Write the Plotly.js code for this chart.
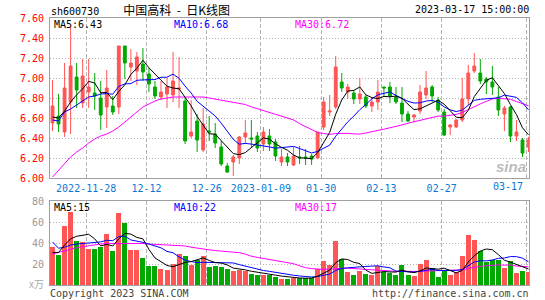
<!DOCTYPE html>
<html><head><meta charset="utf-8">
<script src="https://cdn.plot.ly/plotly-3.0.1.min.js"></script>
<style>html,body{margin:0;padding:0;background:#fff}#c{width:545px;height:300px}</style>
</head><body><div id="c"></div>
<script>
const dates = [
'2022-11-18','2022-11-21','2022-11-22','2022-11-23','2022-11-24','2022-11-25','2022-11-28','2022-11-29','2022-11-30','2022-12-01',
'2022-12-02','2022-12-05','2022-12-06','2022-12-07','2022-12-08','2022-12-09','2022-12-12','2022-12-13','2022-12-14','2022-12-15',
'2022-12-16','2022-12-19','2022-12-20','2022-12-21','2022-12-22','2022-12-23','2022-12-26','2022-12-27','2022-12-28','2022-12-29',
'2022-12-30','2023-01-03','2023-01-04','2023-01-05','2023-01-06','2023-01-09','2023-01-10','2023-01-11','2023-01-12','2023-01-13',
'2023-01-16','2023-01-17','2023-01-18','2023-01-19','2023-01-20','2023-01-30','2023-01-31','2023-02-01','2023-02-02','2023-02-03',
'2023-02-06','2023-02-07','2023-02-08','2023-02-09','2023-02-10','2023-02-13','2023-02-14','2023-02-15','2023-02-16','2023-02-17',
'2023-02-20','2023-02-21','2023-02-22','2023-02-23','2023-02-24','2023-02-27','2023-02-28','2023-03-01','2023-03-02','2023-03-03',
'2023-03-06','2023-03-07','2023-03-08','2023-03-09','2023-03-10','2023-03-13','2023-03-14','2023-03-15','2023-03-16','2023-03-17'];

const open = [
6.55,6.62,6.46,6.76,7.01,6.75,6.86,6.85,6.80,6.71,
6.72,6.71,7.32,7.11,7.07,7.14,7.04,6.91,6.81,6.84,
6.83,6.89,6.77,6.42,6.57,6.28,6.47,6.44,6.31,6.12,
6.16,6.20,6.41,6.40,6.42,6.34,6.42,6.36,6.16,6.21,
6.13,6.21,6.21,6.22,6.20,6.51,6.66,6.71,6.96,6.86,
6.85,6.79,6.81,6.72,6.76,6.91,6.91,6.81,6.75,6.64,
6.61,6.67,6.83,6.91,6.78,6.66,6.51,6.51,6.58,6.79,
7.07,7.05,6.99,6.96,6.81,6.64,6.71,6.42,6.38,6.31];
const high = [
6.98,6.84,7.15,7.53,7.15,7.19,7.19,7.05,6.97,7.08,
6.82,7.32,7.32,7.29,7.26,7.30,7.10,6.97,6.97,7.00,
7.26,7.21,6.80,6.78,6.64,6.70,6.62,6.55,6.37,6.15,
6.23,6.42,6.58,6.58,6.46,6.51,6.49,6.39,6.29,6.25,
6.31,6.32,6.29,6.24,6.46,6.81,6.83,7.22,7.05,6.94,
6.88,7.00,6.83,6.81,6.98,6.91,6.96,6.91,6.91,6.67,
6.64,6.93,7.07,6.93,6.81,6.69,6.54,6.59,7.00,7.13,
7.25,7.19,7.01,7.12,6.91,6.72,6.72,6.58,6.40,6.41];
const low = [
6.47,6.46,6.41,6.44,6.70,6.70,6.70,6.68,6.48,6.50,
6.63,6.64,6.99,6.97,6.93,6.97,6.86,6.79,6.78,6.70,
6.76,6.70,6.34,6.40,6.26,6.26,6.37,6.30,6.12,6.05,
6.02,6.14,6.34,6.30,6.26,6.27,6.27,6.17,6.12,6.12,
6.12,6.14,6.13,6.13,6.19,6.48,6.62,6.69,6.86,6.79,
6.74,6.74,6.70,6.66,6.68,6.81,6.75,6.74,6.56,6.56,
6.56,6.64,6.79,6.76,6.66,6.42,6.43,6.50,6.56,6.73,
7.05,6.94,6.84,6.83,6.62,6.47,6.36,6.37,6.21,6.26];
const close = [
6.72,6.54,6.90,7.12,6.88,7.02,6.91,6.82,6.63,6.90,
6.66,7.32,7.15,7.15,7.21,7.06,6.94,6.82,6.86,6.91,
6.97,6.90,6.37,6.46,6.38,6.54,6.46,6.35,6.14,6.06,
6.21,6.41,6.45,6.39,6.30,6.46,6.34,6.22,6.21,6.16,
6.22,6.20,6.20,6.19,6.46,6.76,6.67,7.11,6.90,6.91,
6.79,6.84,6.72,6.76,6.86,6.90,6.82,6.76,6.64,6.57,
6.63,6.86,6.90,6.82,6.68,6.43,6.53,6.58,6.79,7.05,
7.12,6.97,6.96,6.91,6.68,6.70,6.42,6.46,6.25,6.38];

const ma5 = [
6.61,6.60,6.67,6.76,6.832,6.892,6.966,6.95,6.852,6.856,
6.784,6.866,6.932,7.036,7.098,7.178,7.102,7.036,6.978,6.918,
6.90,6.892,6.802,6.722,6.616,6.53,6.442,6.438,6.374,6.31,
6.244,6.234,6.254,6.304,6.352,6.402,6.388,6.342,6.306,6.278,
6.23,6.202,6.198,6.194,6.254,6.362,6.456,6.638,6.78,6.87,
6.876,6.91,6.832,6.804,6.794,6.816,6.812,6.82,6.796,6.738,
6.684,6.692,6.72,6.756,6.778,6.738,6.672,6.608,6.602,6.676,
6.814,6.902,6.978,7.002,6.928,6.844,6.734,6.634,6.502,6.432];
const ma10 = [
6.58,6.57,6.66,6.69,6.73,6.77,6.81,6.82,6.84,6.844,
6.838,6.916,6.941,6.944,6.977,6.981,6.984,6.984,7.007,7.008,
7.039,6.997,6.919,6.85,6.767,6.715,6.667,6.62,6.548,6.463,
6.387,6.338,6.346,6.339,6.331,6.323,6.311,6.298,6.305,6.315,
6.316,6.295,6.27,6.25,6.266,6.296,6.329,6.418,6.487,6.562,
6.619,6.683,6.735,6.792,6.832,6.846,6.861,6.826,6.80,6.766,
6.75,6.752,6.77,6.776,6.758,6.711,6.682,6.664,6.679,6.727,
6.776,6.787,6.793,6.802,6.802,6.829,6.818,6.806,6.752,6.682];
const ma30 = [
6.01,6.08,6.15,6.21,6.26,6.30,6.35,6.39,6.42,6.44,
6.47,6.51,6.56,6.61,6.66,6.71,6.74,6.77,6.79,6.80,
6.81,6.81,6.81,6.81,6.81,6.81,6.80,6.79,6.78,6.772,
6.755,6.750,6.735,6.711,6.692,6.673,6.654,6.634,6.62,6.595,
6.581,6.543,6.512,6.48,6.455,6.445,6.436,6.445,6.447,6.447,
6.441,6.439,6.45,6.46,6.476,6.488,6.50,6.514,6.531,6.548,
6.562,6.577,6.592,6.606,6.619,6.618,6.624,6.636,6.655,6.685,
6.715,6.741,6.766,6.79,6.797,6.795,6.787,6.765,6.744,6.722];

const volume = [
36,29,56,69.5,41.5,40.5,34,34,36,49,
32.5,69,59,33,33,26,18.5,18.5,15.5,14.5,
20,29.5,28,19.5,24,28,17.5,18,17,15,
13,14,13,10.5,9.5,10,9.5,7.5,6,6,
7,7,6.5,6.5,15,23,19.5,42,24.5,12.5,
9.5,13.5,10.5,9.5,18,12.5,11.5,10,19,10,
8.5,20,23.5,16,7.5,13,9.5,12,27.5,47.5,
42.5,32,22,24,24,16,23,11.5,13.5,12];
const vma5 = [
31,31,38,44,46.4,47.3,48.3,43.9,37.2,38.7,
37.1,44.1,49.1,48.5,45.3,44,33.9,25.8,22.3,18.6,
17.4,19.6,21.5,22.3,24.2,25.8,23.4,21.4,20.9,19.1,
16.1,15.4,14.4,13.1,12,11.4,10.5,9.4,8.5,7.8,
7.2,6.7,6.5,6.6,8.4,11.6,14.1,21.2,24.8,24.3,
21.6,20.4,14.1,11.1,12.2,12.8,12.4,12.3,14.2,12.6,
11.8,13.5,16.2,15.6,15.1,16,13.9,11.6,13.9,21.9,
27.8,32.3,34.3,33.6,28.9,23.6,21.8,19.7,17.6,15.2];
const vma10 = [
41,35,36,38,39,39.5,40,40.5,41,42.6,
42.2,46.2,46.5,42.9,42,40.6,39,37.5,35.4,32,
30.7,26.8,23.7,22.3,21.4,21.6,21.5,21.5,21.6,21.7,
21,19.4,17.9,17,15.6,13.8,13,11.9,10.8,9.9,
9.3,8.6,8,7.6,8.1,9.4,10.4,13.9,15.7,16.4,
16.6,17.3,17.7,18,18.3,17.2,16.4,13.2,12.7,12.4,
12.3,13,14.3,14.9,13.9,13.9,13.7,13.9,14.8,18.5,
21.9,23.1,23,23.8,25.4,25.7,27.1,27,25.6,22.1];
const vma30 = [
29.5,31,33,34.5,35.5,36.5,37.5,38.5,39,39.5,
39.5,40,40,40,40,39.5,39,38.8,38.5,38.2,
38,37.6,37.2,36,35,34.2,33.5,32.8,32.4,32.1,
31.3,30.8,29.4,27.4,26.3,25.3,24.5,23.6,22.6,21.2,
20.3,18.3,16.5,15.6,15,14.9,15,15.7,16,16,
15.6,15.1,14.5,14.2,14,13.5,13.3,13,13.1,12.9,
12.7,12.9,13.3,13.5,13.4,13.5,13.5,13.7,14.4,15.8,
16.9,17.8,18.3,18.9,19.2,18.9,19.1,18,17.7,17.4];

const tickDates = ['2022-11-28','2022-12-12','2022-12-26','2023-01-09','2023-01-30','2023-02-13','2023-02-27','2023-03-17'];
const tickLabels = ['2022-11-28','12-12','12-26','2023-01-09','01-30','02-13','02-27','03-17'];
const priceTicks = [6.00,6.20,6.40,6.60,6.80,7.00,7.20,7.40,7.60];
const volTicks = [20,40,60,80];

const RED='#ff5555', GREEN='#00a800', MONO='DejaVu Sans Mono, monospace', DATEC='#0a78d2';
const idx = dates.map((d,i)=>i);
const tickPos = tickDates.map(d=>dates.indexOf(d)-0.415);
const volColors = idx.map(i=> close[i]>=open[i]?RED:GREEN);
const lastTick = tickLabels.length-1;

const traces = [
 {type:'candlestick', x:idx, open:open, high:high, low:low, close:close, xaxis:'x', yaxis:'y',
  increasing:{line:{color:RED,width:1}, fillcolor:RED},
  decreasing:{line:{color:GREEN,width:1}, fillcolor:GREEN},
  whiskerwidth:0, hoverinfo:'skip'},
 {type:'scatter', mode:'lines', x:idx, y:ma30, line:{color:'#ff00ff',width:1}, xaxis:'x', yaxis:'y', hoverinfo:'skip'},
 {type:'scatter', mode:'lines', x:idx, y:ma10, line:{color:'#0000ff',width:1}, xaxis:'x', yaxis:'y', hoverinfo:'skip'},
 {type:'scatter', mode:'lines', x:idx, y:ma5, line:{color:'#000000',width:1}, xaxis:'x', yaxis:'y', hoverinfo:'skip'},
 {type:'bar', x:idx, y:volume, marker:{color:volColors, line:{width:0}}, width:0.83, xaxis:'x2', yaxis:'y2', hoverinfo:'skip'},
 {type:'scatter', mode:'lines', x:idx, y:vma30, line:{color:'#ff00ff',width:1}, xaxis:'x2', yaxis:'y2', hoverinfo:'skip'},
 {type:'scatter', mode:'lines', x:idx, y:vma10, line:{color:'#0000ff',width:1}, xaxis:'x2', yaxis:'y2', hoverinfo:'skip'},
 {type:'scatter', mode:'lines', x:idx, y:vma5, line:{color:'#000000',width:1}, xaxis:'x2', yaxis:'y2', hoverinfo:'skip'}
];

const Lp=50, Rp=529, Tp=18, Bp=285;
const px = x => (x-Lp)/(Rp-Lp);
const py = y => (Bp-y)/(Bp-Tp);
function ann(text, x, y, color, xanchor, size, family){
  return {text:text, xref:'paper', yref:'paper', x:px(x), y:py(y), xanchor:xanchor, yanchor:'middle',
    showarrow:false, font:{family:family||MONO, size:size||10, color:color}, borderpad:0};
}
const n = close.length-1;
const CJK = 'Noto Sans CJK SC';
const header = 'sh600730\u00a0\u00a0\u00a0\u00a0<span style="font-family:\'' + CJK + '\';font-size:12px">中国高科\u00a0\u00a0-\u00a0\u00a0日K线图</span>';
const annotations = [
  ann(header, 50, 10, '#000', 'left'),
  ann('2023-03-17 15:00:00', 530, 10, '#000', 'right'),
  ann('MA5:'+ma5[n].toFixed(2), 53, 24, '#000', 'left'),
  ann('MA10:'+ma10[n].toFixed(2), 173, 24, '#0000ff', 'left'),
  ann('MA30:'+ma30[n].toFixed(2), 294, 24, '#ff00ff', 'left'),
  ann('MA5:'+Math.round(vma5[n]), 53, 207, '#000', 'left'),
  ann('MA10:'+Math.round(vma10[n]), 173, 207, '#0000ff', 'left'),
  ann('MA30:'+Math.round(vma30[n]), 294, 207, '#ff00ff', 'left'),
  ann(tickLabels[lastTick], 524, 186, DATEC, 'right'),
  ann('x万', 45, 283, '#aaaaaa', 'right', 10, CJK),
  ann('Copyright 2023 SINA.COM', 49, 293, '#444', 'left'),
  ann('http://finance.sina.com.cn', 530, 293, '#444', 'right'),
  ann('<b><i>sina</i></b>', 511, 166, 'rgba(170,170,170,0.8)', 'center', 15, 'Liberation Sans')
];

const gridC='#b4b4b4', lineC='#a0a0a0';
const layout = {
  width:545, height:300, margin:{l:50,r:16,t:18,b:15,pad:0},
  paper_bgcolor:'#fff', plot_bgcolor:'#fff', showlegend:false, boxgap:0.33, bargap:0,
  xaxis:{domain:[0,1], anchor:'y', range:[-0.42,79.08], tickvals:tickPos, ticktext:tickLabels.map((t,i)=>i===lastTick?'':t),
    tickfont:{family:MONO,size:10,color:DATEC}, ticks:'', showgrid:true, gridcolor:gridC, griddash:'4px,2px', gridwidth:1,
    showline:true, mirror:true, linecolor:lineC, linewidth:1, zeroline:false, rangeslider:{visible:false}, fixedrange:true, ticklabelstandoff:1},
  xaxis2:{domain:[0,1], anchor:'y2', matches:'x', range:[-0.42,79.08], tickvals:tickPos, showticklabels:false, ticks:'',
    showgrid:true, gridcolor:gridC, griddash:'4px,2px', gridwidth:1, showline:true, mirror:true, linecolor:lineC, zeroline:false},
  yaxis:{domain:[(Bp-178)/(Bp-Tp),1], anchor:'x', range:[6.0,7.6], tickvals:priceTicks, ticktext:priceTicks.map(v=>v.toFixed(2)),
    tickfont:{family:MONO,size:10,color:'#ff0000'}, ticks:'', showgrid:true, gridcolor:gridC, griddash:'1px,2px', gridwidth:1,
    showline:true, mirror:true, linecolor:lineC, zeroline:false, ticklabelstandoff:3},
  yaxis2:{domain:[0,(Bp-201)/(Bp-Tp)], anchor:'x2', range:[0,80], tickvals:volTicks, ticktext:volTicks.map(String),
    tickfont:{family:MONO,size:10,color:'#999999'}, ticks:'', showgrid:true, gridcolor:gridC, griddash:'1px,2px', gridwidth:1,
    showline:true, mirror:true, linecolor:lineC, zeroline:false, ticklabelstandoff:3},
  annotations:annotations
};
Plotly.newPlot('c', traces, layout, {staticPlot:true, displayModeBar:false});
</script>
</body></html>
